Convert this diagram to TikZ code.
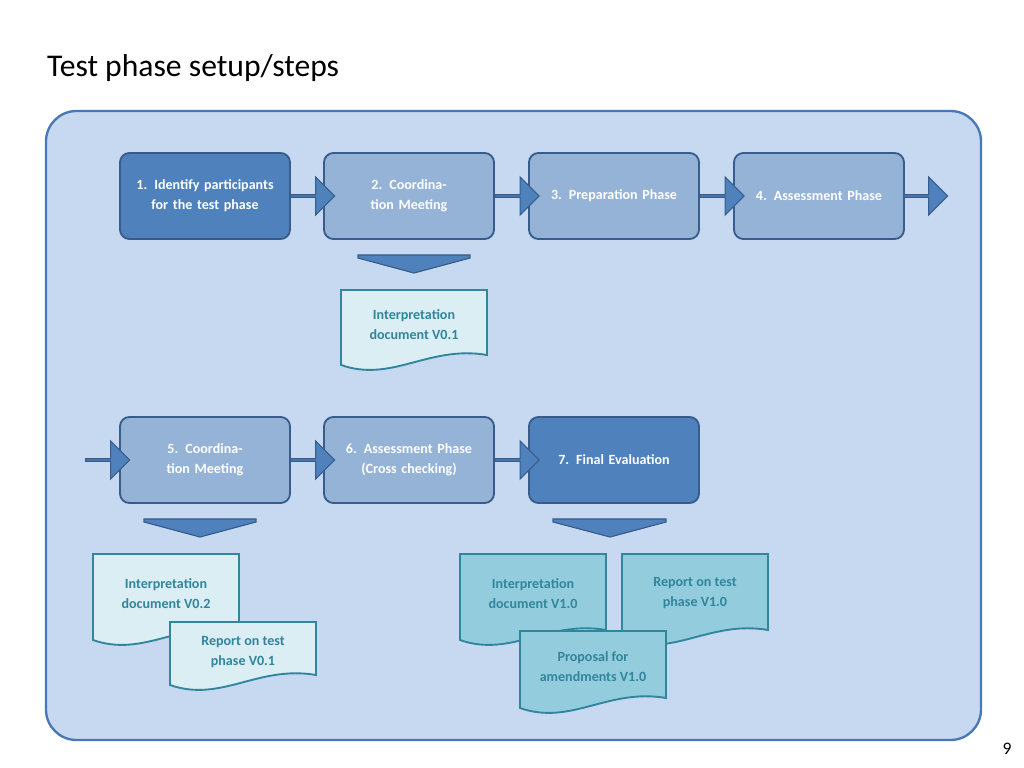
\documentclass[tikz,border=0pt]{standalone}
\usepackage{fontspec}
\setmainfont{Carlito}
\usetikzlibrary{shapes.arrows, positioning, calc}

\definecolor{panelFill}{HTML}{C6D9F1}
\definecolor{panelLine}{HTML}{4A78B4}
\definecolor{boxDark}{HTML}{4F81BD}
\definecolor{boxLight}{HTML}{95B3D7}
\definecolor{boxLine}{HTML}{385D8A}
\definecolor{docLight}{HTML}{DAEEF3}
\definecolor{docMid}{HTML}{93CDDD}
\definecolor{docLine}{HTML}{31859C}

\tikzset{
	Step/.style={
		minimum width=170*0.03cm,
		minimum height=86*0.03cm,
		text width=140*0.03cm,
		align=center,
		draw=boxLine,
		line width=1.6pt,
		rounded corners=8pt,
		text=white,
		font=\fontsize{12}{17}\selectfont\bfseries
	},
	StepLight/.style={Step, fill=boxLight},
	StepDark/.style={Step, fill=boxDark},
	Flow/.style={
		single arrow,
		draw=boxLine,
		fill=boxDark,
		line width=1pt,
		minimum width=38*0.03cm,
		minimum height=44*0.03cm,
		single arrow head extend=8*0.03cm,
		inner sep=0pt
	},
	Drop/.style={draw=boxLine, fill=boxDark, line width=1pt},
	DocText/.style={
		align=center,
		text=docLine,
		font=\fontsize{12}{17}\selectfont\bfseries
	},
	Doc/.style={draw=docLine, line width=1.6pt}
}

% document shape with wavy bottom: name, x1, y1, x2, y2, fill, text
\newcommand{\docbox}[7]{
	\path[Doc, fill=#6] (#2,#3) -- (#4,#3) -- (#4,#5-18)
		.. controls ({#2+0.6*(#4-#2)},#5-28) and ({#2+0.35*(#4-#2)},#5+10) .. (#2,#5-8) -- cycle;
	\node[DocText] (#1) at ({(#2+#4)/2},{#3+(#5-#3)*0.42}) {#7};
}

\begin{document}
\begin{tikzpicture}[x=0.03cm, y=-0.03cm]
	\useasboundingbox (0,0) rectangle (1024,768);

	\node[anchor=base west, font=\fontsize{27}{30}\selectfont] (title) at (43,77) {Test phase setup/steps};
	\node[font=\fontsize{15}{18}\selectfont] (page) at (1007,749) {9};

	\draw[panelLine, fill=panelFill, line width=2pt, rounded corners=26pt]
		(46,111) rectangle (981,740);

	% first row
	\node[StepDark] (s1) at (205,196) {1. Identify participants for the test phase};
	\node[StepLight] (s2) at (409,196) {2. Coordination Meeting};
	\node[StepLight] (s3) at (614,196) {3. Preparation Phase};
	\node[StepLight] (s4) at (819,196) {4. Assessment Phase};
	\node[Flow] (f12) at ($(s1.east)!0.5!(s2.west)+(5,0)$) {};
	\node[Flow] (f23) at ($(s2.east)!0.5!(s3.west)+(5,0)$) {};
	\node[Flow] (f34) at ($(s3.east)!0.5!(s4.west)+(5,0)$) {};
	\node[Flow] (f4x) at (925,196) {};

	\draw[Drop] (358,255) -- (470,255) -- (470,258) -- (414,273) -- (358,258) -- cycle;
	\docbox{d01}{341}{290}{487}{373}{docLight}{Interpretation\\document V0.1}

	% second row
	\node[StepLight] (s5) at (205,460) {5. Coordination Meeting};
	\node[StepLight] (s6) at (409,460) {6. Assessment Phase (Cross checking)};
	\node[StepDark] (s7) at (614,460) {7. Final Evaluation};
	\node[Flow] (fx5) at (107,460) {};
	\node[Flow] (f56) at ($(s5.east)!0.5!(s6.west)+(5,0)$) {};
	\node[Flow] (f67) at ($(s6.east)!0.5!(s7.west)+(5,0)$) {};

	\draw[Drop] (144,519) -- (256,519) -- (256,522) -- (200,537) -- (144,522) -- cycle;
	\draw[Drop] (553,519) -- (666,519) -- (666,522) -- (610,537) -- (553,522) -- cycle;

	\docbox{d02}{93}{554}{239}{648}{docLight}{Interpretation\\document V0.2}
	\docbox{r01}{170}{622}{316}{693}{docLight}{Report on test\\phase V0.1}

	\docbox{d10}{460}{554}{606}{648}{docMid}{Interpretation\\document V1.0}
	\docbox{r10}{622}{554}{768}{648}{docMid}{Report on test\\phase V1.0}
	\docbox{p10}{520}{631}{666}{716}{docMid}{Proposal for\\amendments V1.0}
\end{tikzpicture}
\end{document}
